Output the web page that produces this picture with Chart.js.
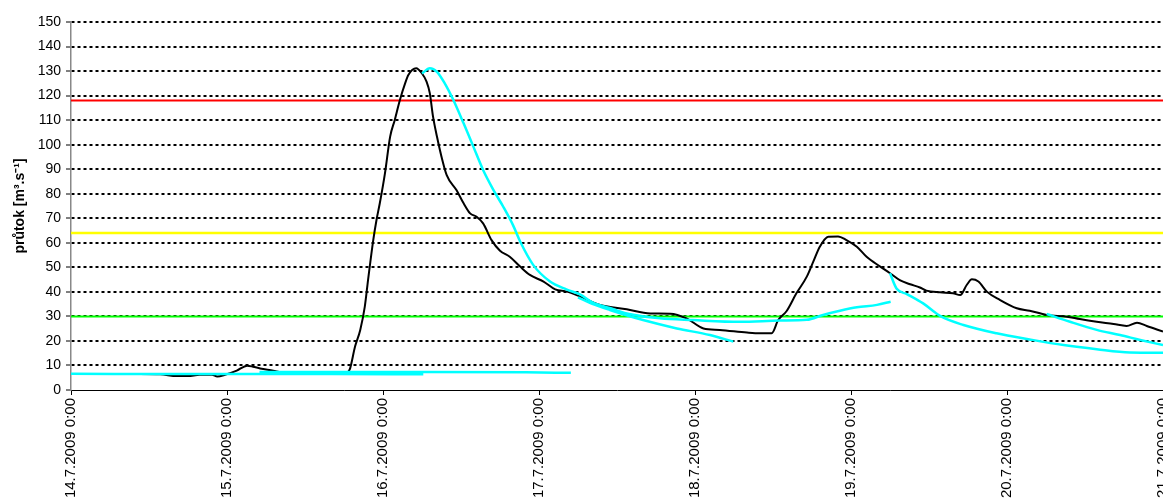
<!DOCTYPE html>
<html>
<head>
<meta charset="utf-8">
<script src="https://cdn.jsdelivr.net/npm/chart.js@4/dist/chart.umd.min.js"></script>
<style>
    body { margin: 0; background: #fff; overflow: hidden; }
    #wrap { position: relative; width: 1163px; height: 501px; }
</style>
</head>
<body>
<div id="wrap"><canvas id="flowChart"></canvas></div>
<script>
// x = hodiny od 14.7.2009 0:00
const dayLabels = ['14.7.2009 0:00', '15.7.2009 0:00', '16.7.2009 0:00', '17.7.2009 0:00',
    '18.7.2009 0:00', '19.7.2009 0:00', '20.7.2009 0:00', '21.7.2009 0:00'];

const thresholds = [118, 64, 30];
const thresholdColors = ['#FF0000', '#FFFF00', '#00FF00'];

// měřený průtok
const measuredHours = [0, 4.5, 10.6, 13.7, 16.3, 18.0, 19.8, 21.7, 22.5, 23.7, 25.5, 27.1, 28.0, 29.1, 31.1,
    32.6, 35.2, 37.8, 39.8, 41.4, 42.5, 42.9, 43.7, 44.5, 45.2, 45.7, 46.5, 47.0, 47.5, 48.3, 49.1,
    49.8, 50.6, 51.4, 51.9, 53.1, 54.0, 54.7, 55.2, 55.7, 56.3, 57.0, 57.8, 59.3, 60.4, 61.4, 62.4,
    63.4, 64.7, 66.0, 67.5, 69.1, 70.6, 72.7, 74.5, 76.3, 78.3, 81.4, 85.5, 89.1, 92.2, 94.7, 97.3,
    99.8, 104.0, 106.0, 107.8, 108.8, 110.1, 111.6, 113.2, 114.2, 115.2, 116.5, 118.0, 119.3, 120.9,
    122.4, 124.5, 126.0, 127.5, 129.1, 130.6, 131.6, 133.7, 135.7, 136.8, 137.8, 138.6, 139.6, 140.9,
    142.9, 145.5, 147.5, 150.1, 153.2, 155.2, 157.8, 160.4, 162.4, 164.0, 165.5, 168];
const measuredFlow = [6.5, 6.5, 6.5, 6.4, 5.7, 5.7, 6.2, 6.2, 5.5, 6.2, 7.9, 9.9, 9.5, 8.8, 7.9,
    7.1, 7.0, 7.0, 6.8, 6.8, 7.2, 8.5, 17.7, 24.5, 34, 44.8, 61.1, 69.3, 76, 88.3, 103.3,
    110, 118.2, 125, 128.4, 131.1, 129, 125.7, 121, 111.4, 103.3, 95.1, 87.6, 81.5, 76.1, 72, 70.6,
    67.9, 61.1, 56.8, 54.3, 50.3, 46.9, 44.2, 41, 40.1, 38.1, 34.7, 32.9, 31.2, 31.1, 29.2, 25.1,
    24.5, 23.4, 23.1, 23.1, 28.5, 32.2, 39.4, 46.2, 52.3, 58.4, 62.5, 62.6, 61.1, 58.4,
    54.3, 50.3, 47.6, 44.8, 43.1, 41.8, 40.5, 39.8, 39.4, 38.7, 42.8, 45.1, 44.2, 40.1,
    36.7, 33.3, 32.3, 30.6, 29.9, 28.9, 27.8, 26.9, 26.1, 27.4, 26.1, 23.8];

// předpovědi
const fc1Hours = [0, 20, 40, 54.2];
const fc1Flow = [6.6, 6.5, 6.5, 6.4];
const fc2Hours = [29, 50, 70, 76.9];
const fc2Flow = [7.3, 7.3, 7.2, 7.0];
const fc3Hours = [54.0, 55.2, 56.3, 57.5, 58.7, 60.4, 61.9, 63.4, 65.0, 66.5, 68.0, 69.1, 71.1, 73.7,
    76.2, 78.3, 80.3, 82.9, 85.5, 90.6, 95.7, 102.9, 109.1, 113.2, 115.7, 118.3, 120.9, 124.0, 126.1];
const fc3Flow = [129, 131.1, 129.7, 125, 118.9, 108.7, 99.2, 89.7, 81.5, 74.7, 67.2, 60.5, 51.0, 44.2,
    41, 39, 35.6, 33.4, 31.2, 29.2, 28.5, 27.8, 28.3, 28.6, 30.6, 32.3, 33.7, 34.7, 36];
const fc4Hours = [78.0, 80.3, 82.9, 88.0, 93.2, 98.3, 101.9];
const fc4Flow = [37.8, 35.0, 32.6, 28.5, 25.1, 22.4, 19.7];
const fc5Hours = [126.0, 127.0, 128.6, 131.1, 133.7, 137.3, 142.4, 147.5, 152.7, 157.8, 162.9, 168];
const fc5Flow = [47.6, 41.4, 39.1, 35.3, 30.2, 26.5, 23.1, 20.6, 18.3, 16.6, 15.3, 15.2];
const fc6Hours = [150.1, 153.7, 157.8, 161.4, 164.5, 168];
const fc6Flow = [31, 27.8, 24.5, 22.4, 20.4, 18.3];

function pts(hours, flow) {
    return hours.map((h, i) => ({ x: h, y: flow[i] }));
}

const forecasts = [
    [fc1Hours, fc1Flow], [fc2Hours, fc2Flow], [fc3Hours, fc3Flow],
    [fc4Hours, fc4Flow], [fc5Hours, fc5Flow], [fc6Hours, fc6Flow]
];

const datasets = [];
forecasts.forEach(f => {
    datasets.push({
        data: pts(f[0], f[1]),
        borderColor: '#00FFFF',
        borderWidth: 2.5,
        pointRadius: 0,
        cubicInterpolationMode: 'monotone',
        order: 1
    });
});
datasets.push({
    data: pts(measuredHours, measuredFlow),
    borderColor: '#000',
    borderWidth: 2,
    pointRadius: 0,
    cubicInterpolationMode: 'monotone',
    order: 2
});
thresholds.forEach((t, i) => {
    datasets.push({
        data: [{ x: 0, y: t }, { x: 168, y: t }],
        borderColor: thresholdColors[i],
        borderWidth: i === 1 ? 2.5 : 2,
        pointRadius: 0,
        order: 3
    });
});

Chart.defaults.font.family = '"Liberation Sans", Arial, sans-serif';
Chart.defaults.color = '#000';

const ctx = document.getElementById('flowChart').getContext('2d');
new Chart(ctx, {
    type: 'line',
    data: { datasets: datasets },
    options: {
        responsive: true,
        maintainAspectRatio: false,
        animation: false,
        layout: { padding: { top: 22, left: 0, right: 0, bottom: 0 } },
        plugins: {
            legend: { display: false },
            tooltip: { enabled: false }
        },
        scales: {
            x: {
                type: 'linear',
                min: 0,
                max: 168,
                afterFit: function(s) {
                    s.height = 111;
                    s.paddingLeft = 0;
                    s.paddingRight = 0;
                },
                ticks: {
                    stepSize: 24,
                    autoSkip: false,
                    maxRotation: 90,
                    minRotation: 90,
                    padding: 3,
                    font: { size: 15 },
                    callback: function(value) {
                        return dayLabels[Math.round(value / 24)];
                    }
                },
                grid: {
                    drawOnChartArea: false,
                    drawTicks: true,
                    tickLength: 5,
                    tickColor: '#000',
                    tickWidth: 1
                },
                border: { color: '#000', width: 1 }
            },
            y: {
                min: 0,
                max: 150,
                afterFit: function(s) {
                    s.width = 71;
                },
                ticks: {
                    stepSize: 10,
                    padding: 5,
                    font: { size: 14 }
                },
                title: {
                    display: true,
                    text: 'průtok [m³.s⁻¹]',
                    font: { size: 14, weight: 'bold' },
                    padding: { top: 12, bottom: 0 }
                },
                grid: {
                    color: function(c) {
                        return c.tick && c.tick.value === 0 ? 'rgba(0,0,0,0)' : '#000';
                    },
                    lineWidth: 2,
                    tickLength: 5,
                    tickColor: '#000',
                    tickWidth: 1,
                    tickBorderDash: []
                },
                border: { color: '#888', width: 1.5, dash: [3, 3] }
            }
        }
    }
});
</script>
</body>
</html>
